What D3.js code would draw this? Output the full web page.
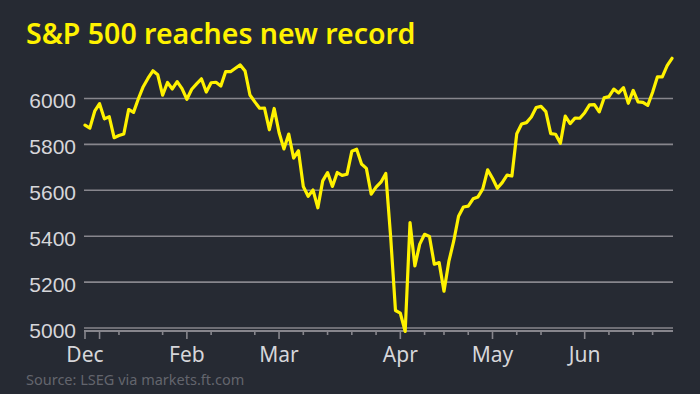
<!DOCTYPE html>
<html>
<head>
<meta charset="utf-8">
<script src="https://cdn.jsdelivr.net/npm/d3@7"></script>
<style>
  html, body { margin: 0; padding: 0; background: #262a33; }
  svg { display: block; font-family: "Noto Sans", "Open Sans", sans-serif; }
</style>
</head>
<body>
<svg id="chart"></svg>
<script>
// S&P 500 daily close, one entry per trading day
const dates = [
  "2024-12-31",
  "2025-01-02","2025-01-03","2025-01-06","2025-01-07","2025-01-08","2025-01-10","2025-01-13","2025-01-14",
  "2025-01-15","2025-01-16","2025-01-17","2025-01-21","2025-01-22","2025-01-23","2025-01-24","2025-01-27",
  "2025-01-28","2025-01-29","2025-01-30","2025-01-31",
  "2025-02-03","2025-02-04","2025-02-05","2025-02-06","2025-02-07","2025-02-10","2025-02-11","2025-02-12",
  "2025-02-13","2025-02-14","2025-02-18","2025-02-19","2025-02-20","2025-02-21","2025-02-24","2025-02-25",
  "2025-02-26","2025-02-27","2025-02-28",
  "2025-03-03","2025-03-04","2025-03-05","2025-03-06","2025-03-07","2025-03-10","2025-03-11","2025-03-12",
  "2025-03-13","2025-03-14","2025-03-17","2025-03-18","2025-03-19","2025-03-20","2025-03-21","2025-03-24",
  "2025-03-25","2025-03-26","2025-03-27","2025-03-28","2025-03-31",
  "2025-04-01","2025-04-02","2025-04-03","2025-04-04","2025-04-07","2025-04-08","2025-04-09","2025-04-10",
  "2025-04-11","2025-04-14","2025-04-15","2025-04-16","2025-04-17","2025-04-21","2025-04-22","2025-04-23",
  "2025-04-24","2025-04-25","2025-04-28","2025-04-29","2025-04-30",
  "2025-05-01","2025-05-02","2025-05-05","2025-05-06","2025-05-07","2025-05-08","2025-05-09","2025-05-12",
  "2025-05-13","2025-05-14","2025-05-15","2025-05-16","2025-05-19","2025-05-20","2025-05-21","2025-05-22",
  "2025-05-23","2025-05-27","2025-05-28","2025-05-29","2025-05-30",
  "2025-06-02","2025-06-03","2025-06-04","2025-06-05","2025-06-06","2025-06-09","2025-06-10","2025-06-11",
  "2025-06-12","2025-06-13","2025-06-16","2025-06-17","2025-06-18","2025-06-20","2025-06-23","2025-06-24",
  "2025-06-25","2025-06-26","2025-06-27"
];

const closes = [
  5881.63,
  5868.55, 5942.47, 5975.38, 5909.03, 5918.25, 5827.04, 5836.22, 5842.91,
  5949.91, 5937.34, 5996.66, 6049.24, 6086.37, 6118.71, 6101.24, 6012.28,
  6067.70, 6039.31, 6071.17, 6040.53,
  5994.57, 6037.88, 6061.48, 6083.57, 6025.99, 6066.44, 6068.50, 6051.97,
  6115.07, 6114.63, 6129.58, 6144.15, 6117.52, 6013.13, 5983.25, 5955.25,
  5956.06, 5861.57, 5954.50,
  5849.72, 5778.15, 5842.63, 5738.52, 5770.20, 5614.56, 5572.07, 5599.30,
  5521.52, 5638.94, 5675.12, 5614.66, 5675.29, 5662.89, 5667.56, 5767.57,
  5776.65, 5712.20, 5693.31, 5580.94, 5611.85,
  5633.07, 5670.97, 5396.52, 5074.08, 5062.25, 4982.77, 5456.90, 5268.05,
  5363.36, 5405.97, 5396.63, 5275.70, 5282.70, 5158.20, 5287.76, 5375.86,
  5484.77, 5525.21, 5528.75, 5560.83, 5569.06,
  5604.14, 5686.67, 5650.38, 5606.91, 5631.28, 5663.94, 5659.91, 5844.19,
  5886.55, 5892.58, 5916.93, 5958.38, 5963.60, 5940.46, 5844.61, 5842.01,
  5802.82, 5921.54, 5888.55, 5912.17, 5911.69,
  5935.94, 5970.37, 5970.81, 5939.30, 6000.36, 6005.88, 6038.81, 6022.24,
  6045.26, 5976.97, 6033.11, 5982.72, 5980.87, 5967.84, 6025.17, 6092.18,
  6092.16, 6141.02, 6173.07
];

const yTicks = [5000, 5200, 5400, 5600, 5800, 6000];

const title = "S&P 500 reaches new record";
const source = "Source: LSEG via markets.ft.com";

const width = 700, height = 394;
const margin = {top: 98, right: 28, bottom: 66.5, left: 85};

const parse = d3.timeParse("%Y-%m-%d");
const data = dates.map((d, i) => ({date: parse(d), key: d, value: closes[i]}));

const svg = d3.select("#chart")
  .attr("width", width)
  .attr("height", height);

svg.append("rect")
  .attr("width", width)
  .attr("height", height)
  .attr("fill", "#262a33");

// trading days are spaced evenly, so use a point scale on the date keys
const x = d3.scalePoint()
  .domain(dates)
  .range([margin.left, width - margin.right]);

const y = d3.scaleLinear()
  .domain([5000, 6000])
  .range([height - margin.bottom, margin.top]);

const gridColor = "#87868d";

// horizontal gridlines + y labels
const yAxis = d3.axisLeft(y)
  .tickValues(yTicks)
  .tickSize(-(width - margin.right - margin.left + 2))
  .tickPadding(8)
  .tickFormat(d3.format("d"));

const yG = svg.append("g")
  .attr("transform", `translate(${margin.left - 1},0)`)
  .call(yAxis);
yG.select(".domain").remove();
yG.selectAll(".tick line")
  .attr("stroke", gridColor)
  .attr("stroke-width", 1.6);
yG.selectAll(".tick text")
  .attr("fill", "#d6d6da")
  .attr("font-size", 21)
  .attr("dy", "0.47em");

// x axis: ticks on each Monday (and the first day), long ticks at start of month
const tickData = data.filter((d, i) => i === 0 || d.date.getDay() === 1);
let lastMonth = null;
tickData.forEach(d => {
  const m = d.date.getMonth();
  d.major = m !== lastMonth;
  lastMonth = m;
});

const axisY = y(5000) + 3.5;
const xG = svg.append("g");

xG.append("line")
  .attr("x1", margin.left - 1)
  .attr("x2", width - margin.right + 1)
  .attr("y1", axisY)
  .attr("y2", axisY)
  .attr("stroke", gridColor)
  .attr("stroke-width", 2);

xG.selectAll(".xtick")
  .data(tickData)
  .join("line")
    .attr("class", "xtick")
    .attr("x1", d => x(d.key))
    .attr("x2", d => x(d.key))
    .attr("y1", axisY)
    .attr("y2", d => axisY + (d.major ? 8 : 4))
    .attr("stroke", gridColor)
    .attr("stroke-width", 1.6);

// month labels, skip any that would crowd the previous one
const fmtMonth = d3.timeFormat("%b");
let lastLabelX = -Infinity;
const labels = tickData.filter(d => {
  if (!d.major) return false;
  const px = x(d.key);
  if (px - lastLabelX < 45) return false;
  lastLabelX = px;
  return true;
});

xG.selectAll(".xlabel")
  .data(labels)
  .join("text")
    .attr("class", "xlabel")
    .attr("x", d => x(d.key))
    .attr("y", 362)
    .attr("text-anchor", "middle")
    .attr("fill", "#d6d6da")
    .attr("font-size", 21)
    .text(d => fmtMonth(d.date));

// price line
const line = d3.line()
  .x(d => x(d.key))
  .y(d => y(d.value));

svg.append("path")
  .datum(data)
  .attr("fill", "none")
  .attr("stroke", "#fff200")
  .attr("stroke-width", 3.2)
  .attr("stroke-linejoin", "round")
  .attr("stroke-linecap", "round")
  .attr("d", line);

// title and source
svg.append("text")
  .attr("x", 26)
  .attr("y", 44)
  .attr("fill", "#fff200")
  .attr("font-size", 28.5)
  .attr("font-weight", 600)
  .text(title);

svg.append("text")
  .attr("x", 26)
  .attr("y", 385)
  .attr("fill", "#63656d")
  .attr("font-size", 14.5)
  .text(source);
</script>
</body>
</html>
